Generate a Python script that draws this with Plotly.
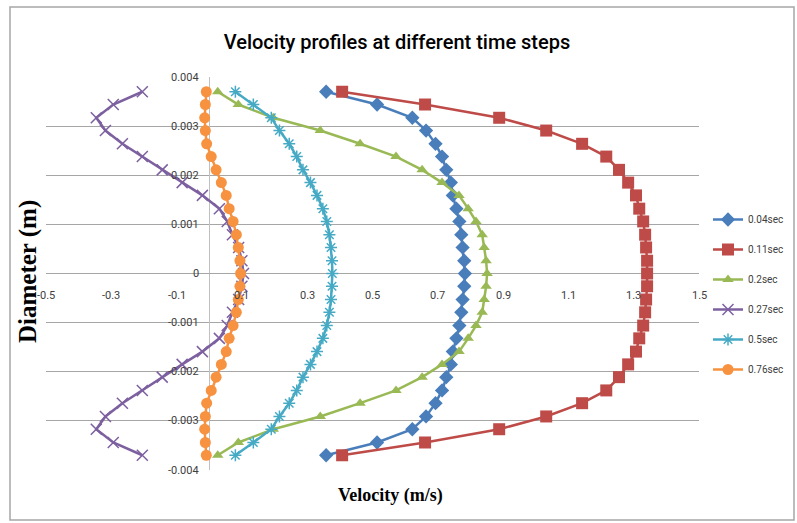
import plotly.graph_objects as go

# Diameter positions (m)
diameter = [0.0037, 0.00344, 0.00317, 0.00291, 0.00264, 0.00238, 0.00211, 0.00185,
            0.00159, 0.00132, 0.00106, 0.00079, 0.00053, 0.00026, 0.0,
            -0.00026, -0.00053, -0.00079, -0.00106, -0.00132, -0.00159, -0.00185,
            -0.00211, -0.00238, -0.00264, -0.00291, -0.00317, -0.00344, -0.0037]

v_004 = [0.358, 0.514, 0.622, 0.664, 0.693, 0.713, 0.726, 0.740, 0.746, 0.757, 0.766, 0.772, 0.776, 0.781, 0.783,
         0.781, 0.776, 0.772, 0.766, 0.757, 0.746, 0.740, 0.726, 0.713, 0.693, 0.664, 0.622, 0.514, 0.358]
v_011 = [0.407, 0.661, 0.888, 1.032, 1.142, 1.216, 1.255, 1.283, 1.307, 1.317, 1.329, 1.335, 1.338, 1.341, 1.341,
         1.341, 1.338, 1.335, 1.329, 1.317, 1.307, 1.283, 1.255, 1.216, 1.142, 1.032, 0.888, 0.661, 0.407]
v_02 = [0.026, 0.089, 0.196, 0.340, 0.462, 0.572, 0.652, 0.713, 0.765, 0.793, 0.817, 0.836, 0.842, 0.848, 0.851,
        0.848, 0.842, 0.836, 0.817, 0.793, 0.765, 0.713, 0.652, 0.572, 0.462, 0.340, 0.196, 0.089, 0.026]
v_027 = [-0.205, -0.294, -0.346, -0.318, -0.266, -0.205, -0.144, -0.083, -0.021, 0.031, 0.055, 0.071, 0.090, 0.100, 0.105,
         0.100, 0.090, 0.071, 0.055, 0.031, -0.021, -0.083, -0.144, -0.205, -0.266, -0.318, -0.346, -0.294, -0.205]
v_05 = [0.080, 0.135, 0.190, 0.215, 0.245, 0.268, 0.287, 0.310, 0.330, 0.348, 0.360, 0.368, 0.373, 0.376, 0.377,
        0.376, 0.373, 0.368, 0.360, 0.348, 0.330, 0.310, 0.287, 0.268, 0.245, 0.215, 0.190, 0.135, 0.080]
v_076 = [-0.009, -0.012, -0.014, -0.012, -0.008, 0.006, 0.021, 0.037, 0.052, 0.061, 0.073, 0.083, 0.089, 0.094, 0.096,
         0.094, 0.089, 0.083, 0.073, 0.061, 0.052, 0.037, 0.021, 0.006, -0.008, -0.012, -0.014, -0.012, -0.009]

series_names = ["0.04sec", "0.11sec", "0.2sec", "0.27sec", "0.5sec", "0.76sec"]
series_values = [v_004, v_011, v_02, v_027, v_05, v_076]

x_ticks = [-0.5, -0.3, -0.1, 0.1, 0.3, 0.5, 0.7, 0.9, 1.1, 1.3, 1.5]
x_tick_labels = ["-0.5", "-0.3", "-0.1", "0.1", "0.3", "0.5", "0.7", "0.9", "1.1", "1.3", "1.5"]
y_ticks = [0.004, 0.003, 0.002, 0.001, 0.0, -0.001, -0.002, -0.003, -0.004]
y_tick_labels = ["0.004", "0.003", "0.002", "0.001", "0", "-0.001", "-0.002", "-0.003", "-0.004"]

X_RANGE = [-0.5, 1.5]
Y_RANGE = [-0.004, 0.004]

colors = ["#4A7EBB", "#BE4B48", "#98B954", "#7D60A0", "#46AAC5", "#F69240"]
symbols = ["diamond", "square", "triangle-up", "x-thin-open", "asterisk-open", "circle"]
msizes = [11, 12, 10, 11, 10, 11]

SANS = "Roboto, Liberation Sans, sans-serif"
SERIF = "Liberation Serif, Times New Roman, serif"

# layout geometry (pixels)
L, R, T, B = 46, 98, 77, 53
W, H = 797, 523
pw, ph = W - L - R, H - T - B
def px(xp):
    return (xp - L) / pw
def py(yp):
    return (H - B - yp) / ph
def xfrac(v):
    return (v - X_RANGE[0]) / (X_RANGE[1] - X_RANGE[0])
def yfrac(v):
    return (v - Y_RANGE[0]) / (Y_RANGE[1] - Y_RANGE[0])

fig = go.Figure()
for i, (name, vals) in enumerate(zip(series_names, series_values)):
    marker = dict(symbol=symbols[i], size=msizes[i], color=colors[i])
    if symbols[i].endswith("open"):
        marker["line"] = dict(color=colors[i], width=1.5)
    fig.add_trace(go.Scatter(
        x=vals, y=diameter, mode="lines+markers", name=name,
        line=dict(color=colors[i], width=2.5), marker=marker,
        legendgroup=name,
    ))

annotations = []
for v, t in zip(x_ticks, x_tick_labels):
    annotations.append(dict(x=xfrac(v), y=yfrac(0), xref="paper", yref="paper", text=t, showarrow=False,
                            xanchor="center", yanchor="middle", yshift=-22,
                            font=dict(family=SANS, size=11, color="#404040")))
for v, t in zip(y_ticks, y_tick_labels):
    annotations.append(dict(x=xfrac(0), y=yfrac(v), xref="paper", yref="paper", text=t, showarrow=False,
                            xanchor="right", yanchor="middle", xshift=-8,
                            font=dict(family=SANS, size=11, color="#404040")))
annotations.append(dict(x=px(390), y=py(495), xref="paper", yref="paper", text="<b>Velocity (m/s)</b>",
                        xanchor="center", yanchor="middle",
                        showarrow=False, font=dict(family=SERIF, size=18, color="#000")))
annotations.append(dict(x=px(28), y=py(272), xref="paper", yref="paper", text="<b>Diameter (m)</b>",
                        xanchor="center", yanchor="middle",
                        textangle=-90, showarrow=False,
                        font=dict(family=SERIF, size=25, color="#000")))

fig.update_layout(
    width=W, height=H,
    margin=dict(l=L, r=R, t=T, b=B, autoexpand=False),
    paper_bgcolor="white", plot_bgcolor="white",
    title=dict(text="Velocity profiles at different time steps", x=397 / W, xanchor="center",
               y=1 - 42 / H, yanchor="middle", yref="container",
               font=dict(family=SANS, size=20, color="#000", weight=500)),
    xaxis=dict(range=X_RANGE, showgrid=False, showticklabels=False, zeroline=True,
               zerolinecolor="#c0c0c0", zerolinewidth=1, showline=False, fixedrange=True),
    yaxis=dict(range=Y_RANGE, dtick=0.001, tick0=0, showgrid=True, gridcolor="#a6a6a6", gridwidth=1,
               showticklabels=False, zeroline=True, zerolinecolor="#a6a6a6", zerolinewidth=1, showline=False),
    legend=dict(x=px(708), y=py(205), xanchor="left", yanchor="top", tracegroupgap=11,
                font=dict(family=SANS, size=10, color="#404040"), itemwidth=30,
                bgcolor="rgba(0,0,0,0)"),
    annotations=annotations,
    shapes=[dict(type="rect", xref="paper", yref="paper", x0=px(10), x1=px(794), y0=py(520), y1=py(7),
                 line=dict(color="#a6a6a6", width=1.5), layer="below")],
)

fig.write_html("out.html")
